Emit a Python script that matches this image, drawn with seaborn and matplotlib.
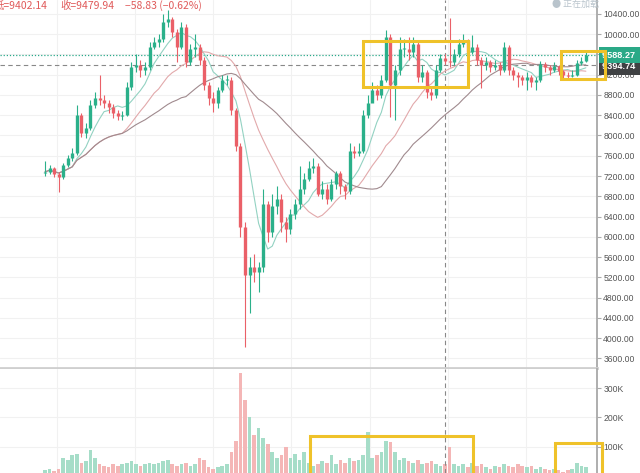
import numpy as np
import pandas as pd
import matplotlib
matplotlib.use("Agg")
import matplotlib.pyplot as plt
import matplotlib.transforms as mtrans
from matplotlib.patches import Rectangle
import seaborn as sns

# ---------------- data ----------------
first_open = 7250
close = [7280, 7350, 7230, 7180, 7420, 7560, 7650, 8400, 8050, 8150,
         8600, 8750, 8700, 8650, 8560, 8450, 8380, 8400, 8950, 9350,
         9400, 9300, 9350, 9750, 9850, 9900, 10250, 10300, 10050, 9750,
         10150, 9450, 9700, 9750, 9500, 9000, 8750, 8650, 8900, 9100,
         9100, 8500, 7800, 6200, 5250, 5400, 5300, 5400, 6650, 6100,
         6600, 6750, 6300, 6150, 6450, 6650, 6950, 7150, 7350, 7400,
         6850, 6950, 6750, 7050, 7250, 7000, 6900, 7700, 7650, 7700,
         8400, 8650, 8900, 8800, 9100, 9950, 9000, 9300, 9700, 9700,
         9650, 9800, 9150, 9250, 8850, 8800, 9300, 9538.77, 9479.94, 9450,
         9600, 9800, 9880, 9650, 9750, 9500, 9400, 9450, 9350, 9400,
         9300, 9750, 9300, 9200, 9150, 9100, 9150, 9050, 9100, 9420,
         9350, 9300, 9380, 9280, 9200, 9180, 9200, 9430, 9480, 9588.27]
high = [7500, 7420, 7380, 7280, 7460, 7620, 7750, 8600, 8450, 8250,
        8700, 8850, 9200, 8800, 8700, 8620, 8500, 8480, 9050, 9450,
        9600, 9500, 9450, 9850, 9950, 10000, 10400, 10480, 10350, 10100,
        10250, 10200, 9800, 10000, 9800, 9550, 9050, 8850, 8950, 9200,
        9200, 9150, 8550, 7850, 6300, 5600, 5650, 5500, 6950, 6700,
        6850, 7000, 6850, 6400, 6550, 6750, 7400, 7250, 7500, 7550,
        7450, 7100, 7050, 7150, 7300, 7300, 7050, 7850, 7800, 7850,
        8500, 8800, 9050, 9000, 9200, 10080, 10000, 9400, 9950, 9900,
        9950, 9950, 9850, 9400, 9300, 8950, 9400, 9600, 9600, 10320,
        9700, 9900, 10000, 9900, 9990, 9800, 9550, 9550, 9500, 9500,
        9450, 9850, 9780, 9350, 9250, 9200, 9250, 9200, 9150, 9480,
        9450, 9400, 9450, 9400, 9300, 9250, 9300, 9500, 9550, 9650]
low = [7200, 7230, 7180, 6880, 7150, 7380, 7500, 7620, 7980, 7950,
       8100, 8550, 8600, 8550, 8450, 8350, 8300, 8300, 8380, 8900,
       9250, 9150, 9200, 9300, 9700, 9750, 9850, 10150, 9950, 9450,
       9700, 9350, 9400, 9550, 9400, 8900, 8600, 8460, 8550, 8850,
       9000, 8400, 7700, 6000, 3820, 4500, 5100, 4900, 5300, 5900,
       6000, 6450, 6100, 5900, 6050, 6350, 6550, 6850, 7100, 7250,
       6800, 6750, 6650, 6700, 6950, 6850, 6750, 6850, 7550, 7600,
       7650, 8350, 8700, 8700, 8750, 9050, 8370, 8300, 9200, 9550,
       9500, 9550, 9050, 9050, 8750, 8700, 8750, 9250, 9402.14, 9350,
       9400, 9550, 9750, 9550, 9600, 9400, 8940, 9300, 9250, 9300,
       9200, 9250, 9200, 9100, 8950, 9000, 8900, 8950, 8900, 9050,
       9250, 9200, 9250, 9200, 9100, 9100, 9150, 9180, 9400, 9450]
volume_k = [20, 25, 18, 22, 60, 55, 70, 75, 45, 50,
            90, 60, 40, 35, 30, 40, 35, 40, 45, 50,
            40, 35, 40, 45, 40, 45, 50, 55, 40, 35,
            40, 45, 35, 40, 60, 55, 30, 25, 30, 35,
            40, 80, 120, 350, 260, 200, 140, 165, 130, 110,
            80, 60, 70, 100, 60, 75, 55, 80, 45, 35,
            40, 50, 45, 70, 40, 55, 45, 60, 50, 55,
            70, 150, 60, 70, 80, 120, 115, 80, 55, 60,
            50, 45, 55, 40, 45, 50, 40, 35, 40, 100,
            40, 35, 40, 30, 45, 35, 40, 30, 25, 35,
            30, 40, 35, 30, 40, 35, 30, 35, 25, 30,
            25, 20, 25, 20, 15, 20, 25, 45, 35, 30]
price_ticks = list(range(3600, 10401, 400))
volume_ticks = [100, 200, 300]
volume_tick_labels = ["100K", "200K", "300K"]
last_price = 9588.27
cross_price = 9394.74
cross_index = 88
header_low = "低=9402.14"
header_close = "收=9479.94"
header_change = "−58.83 (−0.62%)"

# ---------------- frame ----------------
df = pd.DataFrame({"close": close, "high": high, "low": low, "volume": volume_k})
df["idx"] = np.arange(len(df))
df["open"] = df["close"].shift(1).fillna(first_open)
df["dir"] = np.where(df["close"] >= df["open"], "up", "down")
df["ma_fast"] = df["close"].rolling(7, min_periods=1).mean()
df["ma_mid"] = df["close"].rolling(18, min_periods=1).mean()
df["ma_slow"] = df["close"].rolling(32, min_periods=1).mean()

GREEN = "#2bb08a"
RED = "#ea6068"
VGREEN = "#a6ddc8"
VRED = "#f4b6b6"
YELLOW = "#efc22a"
TICKFONT = "Liberation Sans"

sns.set_theme(style="white")
plt.rcParams["font.family"] = ["DejaVu Sans", "Noto Sans CJK SC"]

W, H = 640, 473
fig = plt.figure(figsize=(6.4, 4.73), dpi=100, facecolor="white")
ax = fig.add_axes([0, 1 - 368 / H, 597 / W, 368 / H])
axv = fig.add_axes([0, 0, 597 / W, 104 / H])

xmin, xmax = -9.9, 121.45

# ---------------- price panel ----------------
colors = np.where(df["dir"] == "up", GREEN, RED)
ax.vlines(df["idx"], df["low"], df["high"], colors=colors, lw=0.8, zorder=3)
body_lo = np.minimum(df["open"], df["close"])
body_hi = np.maximum(np.maximum(df["open"], df["close"]), body_lo + 20)
ax.vlines(df["idx"], body_lo, body_hi, colors=colors, lw=2.4, zorder=4)

sns.lineplot(data=df, x="idx", y="ma_fast", color="#93d2c2", lw=0.8, ax=ax, zorder=2)
sns.lineplot(data=df, x="idx", y="ma_mid", color="#e2a9ab", lw=0.8, ax=ax, zorder=2)
sns.lineplot(data=df, x="idx", y="ma_slow", color="#a08a8e", lw=0.8, ax=ax, zorder=2)

ax.set_xlim(xmin, xmax)
ax.set_ylim(3408, 10676)
ax.set_xlabel("")
ax.set_ylabel("")
ax.yaxis.tick_right()
ax.set_yticks(price_ticks)
ax.set_yticklabels([f"{v:.2f}" for v in price_ticks], family=TICKFONT)
ax.set_xticks(np.arange(2.6, 121, 17.2))
ax.set_xticklabels([])
ax.tick_params(axis="y", length=3, width=0.8, color="#aaaaaa", labelsize=6.2,
               labelcolor="#555555", pad=1.5)
ax.tick_params(axis="x", length=0)
ax.grid(True, color="#f1f1f1", lw=0.8)
for s in ["top", "left"]:
    ax.spines[s].set_visible(False)
ax.spines["right"].set_color("#a8a8a8")
ax.spines["right"].set_linewidth(1.3)
ax.spines["bottom"].set_color("#cfcfcf")
ax.spines["bottom"].set_linewidth(2)

ax.axhline(last_price, color="#2aa98a", ls=(0, (1, 1.5)), lw=0.9, zorder=1)
ax.axhline(cross_price, color="#888888", ls=(0, (4, 3)), lw=0.8, zorder=1)
ax.axvline(cross_index, color="#888888", ls=(0, (4, 3)), lw=0.8, zorder=1)

trans = mtrans.blended_transform_factory(ax.transAxes, ax.transData)
ax.text(1.008, cross_price - 40, "9394.74 ", transform=trans, ha="left", va="center",
        fontsize=6.6, color="white", family=TICKFONT, fontweight="bold",
        clip_on=False, zorder=6,
        bbox=dict(boxstyle="square,pad=0.35", fc="#3f4143", ec="none"))
ax.text(1.008, last_price, "9588.27 ", transform=trans, ha="left", va="center",
        fontsize=6.6, color="white", family=TICKFONT, fontweight="bold",
        clip_on=False, zorder=7,
        bbox=dict(boxstyle="square,pad=0.35", fc="#2aa987", ec="none"))

ax.add_patch(Rectangle((70.0, 8958), 23.1, 908, fill=False, ec=YELLOW, lw=2.2,
                       clip_on=False, zorder=10))
ax.add_patch(Rectangle((113.5, 9116), 9.7, 553, fill=False, ec=YELLOW, lw=2.2,
                       clip_on=False, zorder=10))

# ---------------- volume panel ----------------
sns.barplot(data=df, x="idx", y="volume", hue="dir",
            palette={"up": VGREEN, "down": VRED}, dodge=False, native_scale=True,
            legend=False, width=0.8, saturation=1, linewidth=0, ax=axv)
axv.set_xlim(xmin, xmax)
axv.set_ylim(10, 365)
axv.set_xlabel("")
axv.set_ylabel("")
axv.yaxis.tick_right()
axv.set_yticks(volume_ticks)
axv.set_yticklabels(volume_tick_labels, family=TICKFONT)
axv.set_xticks(np.arange(2.6, 121, 17.2))
axv.set_xticklabels([])
axv.tick_params(axis="y", length=3, width=0.8, color="#aaaaaa", labelsize=6.2,
                labelcolor="#555555", pad=1.5)
axv.tick_params(axis="x", length=0)
axv.grid(True, color="#f1f1f1", lw=0.8)
for s in ["top", "left", "bottom"]:
    axv.spines[s].set_visible(False)
axv.spines["right"].set_color("#a8a8a8")
axv.spines["right"].set_linewidth(1.3)
axv.axvline(cross_index, color="#888888", ls=(0, (4, 3)), lw=0.8, zorder=1)

axv.add_patch(Rectangle((58.3, 0), 35.9, 136, fill=False, ec=YELLOW, lw=2.2,
                        clip_on=False, zorder=10))
axv.add_patch(Rectangle((112.2, 0), 10.3, 113, fill=False, ec=YELLOW, lw=2.2,
                        clip_on=False, zorder=10))

# ---------------- header texts ----------------
cjk = ["Noto Sans CJK SC", "DejaVu Sans"]
fig.text(-6 / W, 1 - 8.5 / H, header_low, color="#e05a5a", fontsize=7.5,
         family=cjk, va="baseline", ha="left")
fig.text(60 / W, 1 - 8.5 / H, header_close, color="#e05a5a", fontsize=7.5,
         family=cjk, va="baseline", ha="left")
fig.text(125 / W, 1 - 8.5 / H, header_change, color="#e05a5a", fontsize=7.5,
         family=cjk, va="baseline", ha="left")
fig.text(552 / W, 1 - 7 / H, "● 正在加载", color="#b9c4cc", fontsize=6.5,
         family=cjk, va="baseline", ha="left")

fig.savefig("out.png", dpi=100, facecolor="white")
